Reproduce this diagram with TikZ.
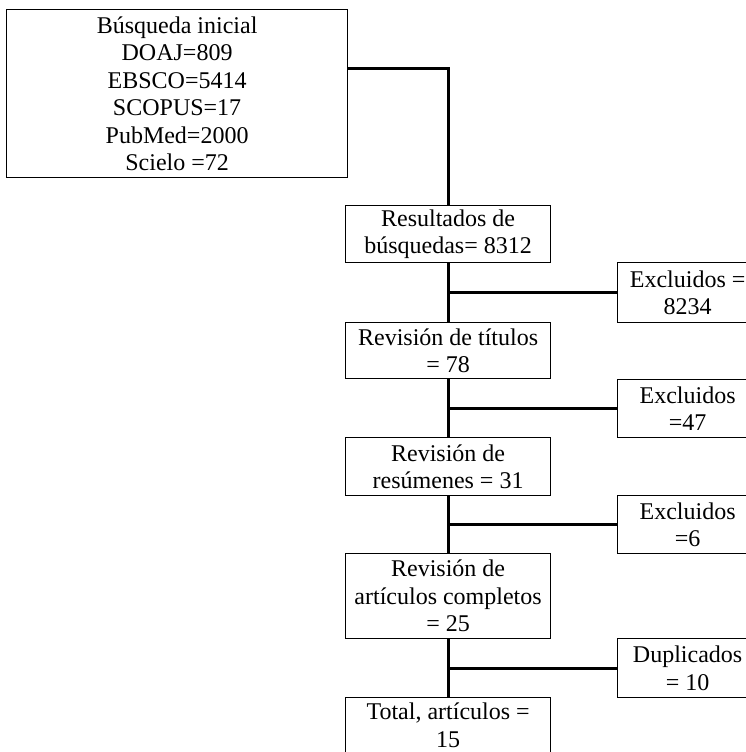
\documentclass[tikz,border=0pt]{standalone}
\usepackage{fontspec}
\setmainfont{Liberation Serif}
\begin{document}
\begin{tikzpicture}[x=1pt,y=-1pt,
  box/.style={draw, line width=1.2pt, inner sep=0pt, align=center, anchor=north west,
    font=\fontsize{24}{27.5}\selectfont},
  conn/.style={line width=3pt}]
\useasboundingbox (0,0) rectangle (746,752);
\node[box, minimum width=341pt, minimum height=168pt] (b0) at (6,9)
  {Búsqueda inicial\\DOAJ=809\\EBSCO=5414\\SCOPUS=17\\PubMed=2000\\Scielo =72};
\node[box, minimum width=205pt, minimum height=57pt] (r1) at (345,205)
  {Resultados de\\búsquedas= 8312};
\node[box, minimum width=205pt, minimum height=56pt] (t2) at (345,322)
  {Revisión de títulos\\= 78};
\node[box, minimum width=205pt, minimum height=58pt] (s3) at (345,437)
  {Revisión de\\resúmenes = 31};
\node[box, minimum width=205pt, minimum height=85pt] (c4) at (345,553)
  {Revisión de\\artículos completos\\= 25};
\node[box, minimum width=205pt, minimum height=55pt] (f5) at (345,697)
  {Total, artículos =\\15};
\node[box, minimum width=140pt, minimum height=60pt] (e1) at (617,262)
  {Excluidos =\\8234};
\node[box, minimum width=140pt, minimum height=58pt] (e2) at (617,379)
  {Excluidos\\=47};
\node[box, minimum width=140pt, minimum height=58pt] (e3) at (617,495)
  {Excluidos\\=6};
\node[box, minimum width=140pt, minimum height=59pt] (d4) at (617,638)
  {Duplicados\\= 10};
\draw[conn] ([yshift=25pt]b0.east) -| (r1.north);
\draw[conn] (r1.south) -- (t2.north);
\draw[conn] (t2.south) -- (s3.north);
\draw[conn] (s3.south) -- (c4.north);
\draw[conn] (c4.south) -- (f5.north);
\draw[conn] (e1.west) -- (e1.west -| r1.south);
\draw[conn] (e2.west) -- (e2.west -| t2.south);
\draw[conn] (e3.west) -- (e3.west -| s3.south);
\draw[conn] (d4.west) -- (d4.west -| c4.south);
\end{tikzpicture}
\end{document}
